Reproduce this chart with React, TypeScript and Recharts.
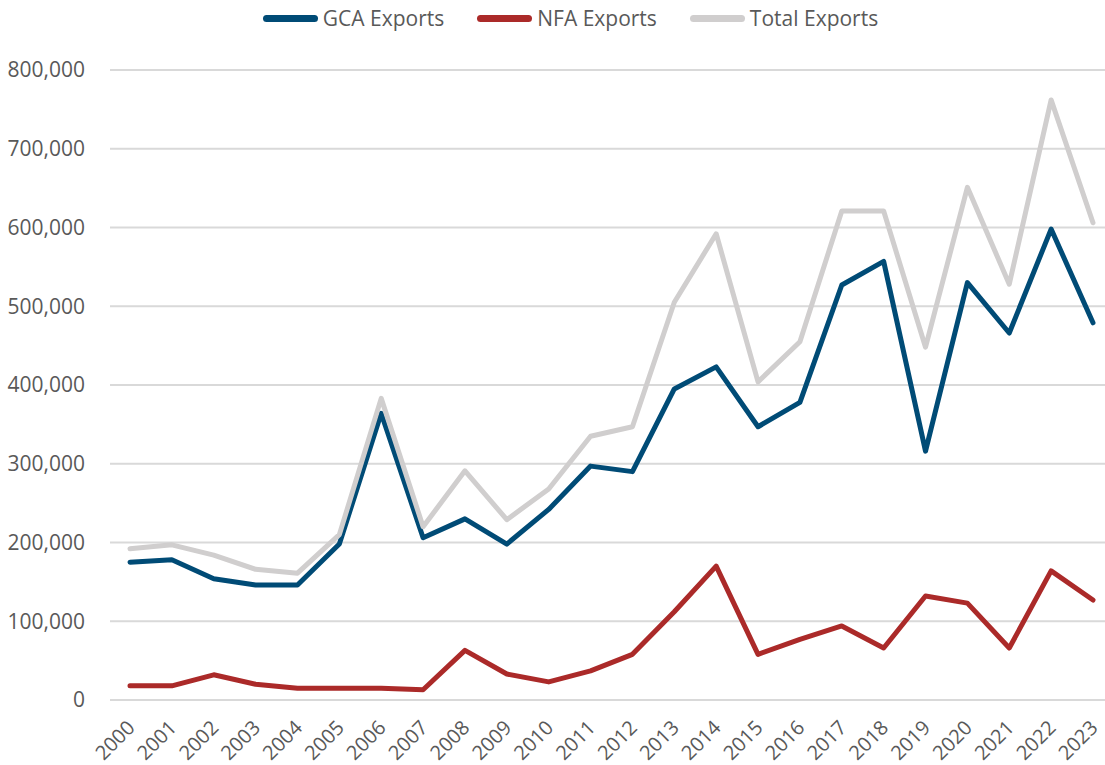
import { LineChart, Line, XAxis, YAxis, CartesianGrid } from "recharts";

const years = [
  "2000", "2001", "2002", "2003", "2004", "2005", "2006", "2007", "2008", "2009", "2010", "2011",
  "2012", "2013", "2014", "2015", "2016", "2017", "2018", "2019", "2020", "2021", "2022", "2023",
];
const gcaExports = [
  175000, 178000, 154000, 146000, 146000, 198000, 364000, 206000, 230000, 198000, 242000, 297000,
  290000, 395000, 423000, 347000, 378000, 527000, 557000, 316000, 530000, 466000, 598000, 479000,
];
const nfaExports = [
  18000, 18000, 32000, 20000, 15000, 15000, 15000, 13000, 63000, 33000, 23000, 37000,
  58000, 112000, 170000, 58000, 77000, 94000, 66000, 132000, 123000, 66000, 164000, 127000,
];
const totalExports = [
  192000, 197000, 184000, 166000, 161000, 210000, 383000, 220000, 291000, 229000, 268000, 335000,
  347000, 505000, 592000, 404000, 455000, 621000, 621000, 448000, 651000, 528000, 762000, 606000,
];
const yTicks = [0, 100000, 200000, 300000, 400000, 500000, 600000, 700000, 800000];

const data = years.map((year, i) => ({
  year,
  gca: gcaExports[i],
  nfa: nfaExports[i],
  total: totalExports[i],
}));

const FONT = "'Open Sans', sans-serif";
const TEXT = "#595959";

const series = [
  { key: "gca", name: "GCA Exports", color: "#004b76" },
  { key: "nfa", name: "NFA Exports", color: "#ab2a29" },
  { key: "total", name: "Total Exports", color: "#d0cece" },
];

// legend sits a bit right of centre, like the original
function LegendBox() {
  return (
    <div
      style={{
        position: "absolute",
        left: 36,
        top: 4,
        width: 1069,
        display: "flex",
        justifyContent: "center",
        gap: 33,
        fontFamily: FONT,
        fontSize: 21,
        color: TEXT,
      }}
    >
      {series.map((s) => (
        <div key={s.key} style={{ display: "flex", alignItems: "center", gap: 5 }}>
          <span style={{ display: "inline-block", width: 55, height: 7, borderRadius: 4, background: s.color }} />
          <span>{s.name}</span>
        </div>
      ))}
    </div>
  );
}

function YearTick(props: any) {
  const { x, y, payload } = props;
  const ax = x + 6;
  const ay = y + 21;
  return (
    <text
      x={ax}
      y={ay}
      transform={`rotate(-45 ${ax} ${ay})`}
      textAnchor="end"
      fontFamily={FONT}
      fontSize={20}
      fill={TEXT}
    >
      {payload.value}
    </text>
  );
}

export default function App() {
  return (
    <div style={{ position: "absolute", left: 0, top: 0, width: 1105, height: 765, background: "#fff" }}>
      <LineChart width={1105} height={765} data={data} margin={{ top: 70, right: 0, bottom: 0, left: 0 }}>
        <CartesianGrid vertical={false} stroke="#d9d9d9" strokeWidth={2} />
        <XAxis
          dataKey="year"
          interval={0}
          tick={<YearTick />}
          tickLine={false}
          axisLine={false}
          padding={{ left: 20, right: 12 }}
          height={65}
        />
        <YAxis
          width={110}
          domain={[0, 800000]}
          ticks={yTicks}
          tickFormatter={(v: number) => v.toLocaleString("en-US")}
          tick={{ fontFamily: FONT, fontSize: 21, fill: TEXT }}
          tickLine={false}
          axisLine={false}
          tickSize={0}
          tickMargin={25}
        />
        {series.map((s) => (
          <Line
            key={s.key}
            type="linear"
            dataKey={s.key}
            name={s.name}
            stroke={s.color}
            strokeWidth={5}
            dot={false}
            activeDot={false}
            strokeLinejoin="round"
            strokeLinecap="round"
            isAnimationActive={false}
          />
        ))}
      </LineChart>
      <LegendBox />
    </div>
  );
}
